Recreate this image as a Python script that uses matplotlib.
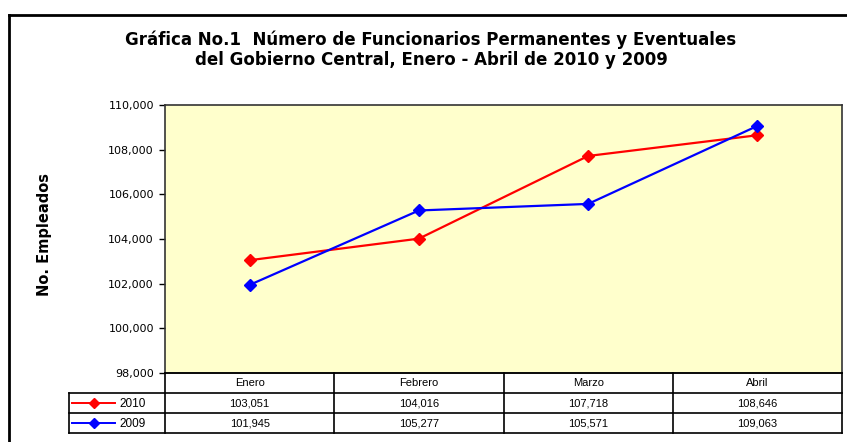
import numpy as np
import matplotlib.pyplot as plt
from matplotlib.lines import Line2D

plt.rcParams['font.family'] = ['Liberation Sans', 'DejaVu Sans']

meses = ["Enero", "Febrero", "Marzo", "Abril"]
anios = ["2010", "2009"]
v2010 = [103051, 104016, 107718, 108646]
v2009 = [101945, 105277, 105571, 109063]
colores = ["#FF0000", "#0000FF"]

W, H = 847, 442
fig = plt.figure(figsize=(W / 100, H / 100), dpi=100)

def px(x0, y0, x1, y1):
    # pixel box -> figure fraction rect
    return [x0 / W, 1 - y1 / H, (x1 - x0) / W, (y1 - y0) / H]

# outer chart border (top and left visible)
fig.add_artist(Line2D([9 / W, 1], [1 - 15 / H, 1 - 15 / H], color="black", lw=2))
fig.add_artist(Line2D([9 / W, 9 / W], [0, 1 - 15 / H], color="black", lw=2))

tfont = dict(ha="center", va="center", fontsize=12, fontweight="bold", family="DejaVu Sans")
fig.text(431 / W, 1 - 40 / H, "Gráfica No.1  Número de Funcionarios Permanentes y Eventuales", **tfont)
fig.text(431 / W, 1 - 60 / H, "del Gobierno Central, Enero - Abril de 2010 y 2009", **tfont)

fig.text(45 / W, 1 - 235 / H, "No. Empleados", rotation=90, ha="center", va="center",
         fontsize=10.5, fontweight="bold", family="DejaVu Sans")

ax = fig.add_axes(px(165, 105, 842, 373))
ax.set_facecolor("#FFFFCC")
x = np.arange(len(meses))
for vals, c in zip([v2010, v2009], colores):
    ax.plot(x, vals, color=c, lw=1.6, marker="D", ms=6, mec=c, mfc=c)
ax.set_xlim(-0.5, len(meses) - 0.5)
ax.set_ylim(98000, 110000)
ax.set_yticks(np.arange(98000, 110001, 2000))
ax.set_yticklabels([f"{v:,}" for v in range(98000, 110001, 2000)], fontsize=8,
                   family="DejaVu Sans")
ax.set_xticks([])
ax.tick_params(axis="y", direction="out", length=4, width=1, pad=4)
for s in ax.spines.values():
    s.set_color("#333333")
    s.set_linewidth(1.2)

# data table
tx = fig.add_axes(px(69, 373, 842, 433))
per_unit = (842 - 165) / len(meses)
left = -0.5 - (165 - 69) / per_unit
tx.set_xlim(left, len(meses) - 0.5)
tx.set_ylim(0, 3)
tx.axis("off")
lk = dict(color="black", lw=1.2, clip_on=False)
edges = np.arange(len(meses) + 1) - 0.5
tx.plot([-0.5, edges[-1]], [3, 3], **lk)
tx.plot([left, edges[-1]], [2, 2], **lk)
tx.plot([left, edges[-1]], [1, 1], **lk)
tx.plot([left, edges[-1]], [0, 0], **lk)
tx.plot([left, left], [0, 2], **lk)
for e in edges:
    tx.plot([e, e], [0, 3], **lk)
for i, m in enumerate(meses):
    tx.text(i, 2.5, m, ha="center", va="center", fontsize=8)
for r, (nombre, vals, c) in enumerate(zip(anios, [v2010, v2009], colores)):
    yy = 1.5 - r
    for i, v in enumerate(vals):
        tx.text(i, yy, f"{v:,}", ha="center", va="center", fontsize=8)
    tx.plot([left + 0.02, left + 0.27], [yy, yy], color=c, lw=1.4, clip_on=False)
    tx.plot([left + 0.145], [yy], color=c, marker="D", ms=5, clip_on=False)
    tx.text(left + 0.3, yy - 0.05, nombre, ha="left", va="center", fontsize=8.5)

fig.savefig("out.png", dpi=100)
